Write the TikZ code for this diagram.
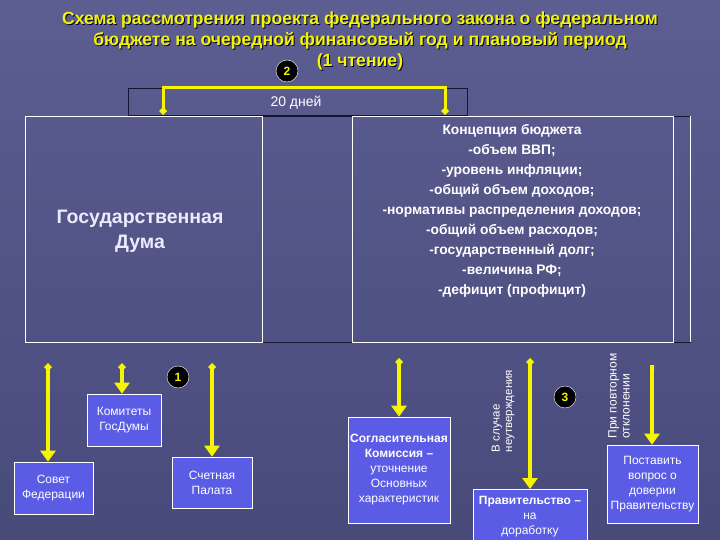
\documentclass[tikz,border=0pt]{standalone}
\usepackage{fontspec}
\setmainfont{Liberation Sans}
\usetikzlibrary{arrows.meta}
\definecolor{slidetop}{RGB}{92,94,146}
\definecolor{slidebot}{RGB}{72,74,122}
\definecolor{boxblue}{RGB}{90,92,230}
\definecolor{hiyellow}{RGB}{245,245,0}
\definecolor{darkline}{RGB}{22,22,52}

\begin{document}
\begin{tikzpicture}[x=1pt, y=-1pt]
      %% Styles
      \tikzset
      {
      headline/.style={font=\bfseries\fontsize{17.6}{21}\selectfont, align=center},
      num/.style={circle, fill=black, draw=white, thin, minimum size=22pt, inner sep=0pt, text=hiyellow, font=\bfseries\fontsize{12}{12}\selectfont},
      frame/.style={draw=white, semithick, inner sep=0pt},
      stage/.style={draw=white, semithick, fill=boxblue, text=white, align=center, inner sep=0pt, font=\fontsize{12}{15}\selectfont},
      flow/.style={draw=hiyellow, line width=4pt, {Diamond[length=8pt,width=8pt]}-{Triangle[length=11pt,width=15pt]}},
      % nflow/.style = {-}
      }
      %% Background
      \useasboundingbox (0,0) rectangle (720,540);
      \shade[top color=slidetop, bottom color=slidebot] (0,0) rectangle (720,540);
      %% Title
      \node[headline, text=black!80!blue] at (361,42) {Схема рассмотрения проекта федерального закона о федеральном\\бюджете на очередной финансовый год и плановый период\\(1 чтение)};
      \node[headline, text=hiyellow] (title) at (360,41) {Схема рассмотрения проекта федерального закона о федеральном\\бюджете на очередной финансовый год и плановый период\\(1 чтение)};
      \node[num] (n2) at (287,71) {2};
      %% Period
      \node[draw=darkline, thick, minimum width=339pt, minimum height=27pt, inner sep=0pt] (period) at (297.5,101.5) {};
      \node[text=white, font=\fontsize{14}{14}\selectfont] (days) at (296,103) {20 дней};
      \draw[darkline, thick] (25,116) rectangle (690,342);
      %% Upper boxes
      \node[frame, minimum width=237pt, minimum height=226pt] (duma) at (143.5,229) {};
      \node[text=white!92!blue, font=\bfseries\fontsize{19.5}{25}\selectfont, align=center] (dumatext) at (140,231) {Государственная\\Дума};
      \node[frame, minimum width=321pt, minimum height=226pt] (concept) at (512.5,229) {};
      \draw[white, semithick] (690,116) -- (690,342);
      \node[text=white, font=\bfseries\fontsize{13.8}{20}\selectfont, align=center, anchor=north] (concepttext) at (512,121) {Концепция бюджета\\-объем ВВП;\\-уровень инфляции;\\-общий объем доходов;\\-нормативы распределения доходов;\\-общий объем расходов;\\-государственный долг;\\-величина РФ;\\-дефицит (профицит)};
      %% Bracket
      \coordinate (b1) at (163,115);
      \coordinate (b2) at (445,115);
      \draw[hiyellow, line width=3pt, {Diamond[length=8pt,width=8pt]}-{Diamond[length=8pt,width=8pt]}] (b1) |- (period.north) -| (b2);
      %% Lower boxes
      \node[stage, minimum width=74pt, minimum height=52pt] (komitety) at (124,420) {Комитеты\\ГосДумы};
      \node[stage, minimum width=79pt, minimum height=52pt] (sovet) at (53.5,488) {Совет\\Федерации};
      \node[stage, minimum width=80pt, minimum height=51pt] (palata) at (212,482.5) {Счетная\\Палата};
      \node[stage, minimum width=102pt, minimum height=106pt] (soglas) at (399,470) {\textbf{Согласительная}\\\textbf{Комиссия –}\\уточнение\\Основных\\характеристик};
      \node[stage, minimum width=114pt, minimum height=54pt, anchor=north] (prav) at (530,489) {\textbf{Правительство –}\\на\\доработку};
      \node[stage, minimum width=91pt, minimum height=78pt] (postav) at (652.5,484) {Поставить\\вопрос о\\доверии\\Правительству};
      %% Markers
      \node[num] (n1) at (178,377) {1};
      \node[num] (n3) at (565,397) {3};
      \node[text=white, rotate=90, align=left, font=\fontsize{11.5}{12.5}\selectfont] (neutv) at (503,411) {В случае\\неутверждения};
      \node[text=white, rotate=90, align=left, font=\fontsize{12}{13}\selectfont] (povt) at (619,396) {При повторном\\отклонении};
      %% Arrows
      \coordinate (a1) at (48,363);
      \coordinate (a2) at (122,363);
      \coordinate (a3) at (212,363);
      \coordinate (a4) at (399,358);
      \coordinate (a5) at (530,358);
      \coordinate (a6) at (652,365);
      \draw[flow] (a1) -- (a1 |- sovet.north);
      \draw[flow] (a2) -- (a2 |- komitety.north);
      \draw[flow] (a3) -- (palata.north);
      \draw[flow] (a4) -- (soglas.north);
      \draw[flow] (a5) -- (prav.north);
      \draw[flow, {Butt Cap}-{Triangle[length=11pt,width=15pt]}] (a6) -- (a6 |- postav.north);
\end{tikzpicture}
\end{document}
